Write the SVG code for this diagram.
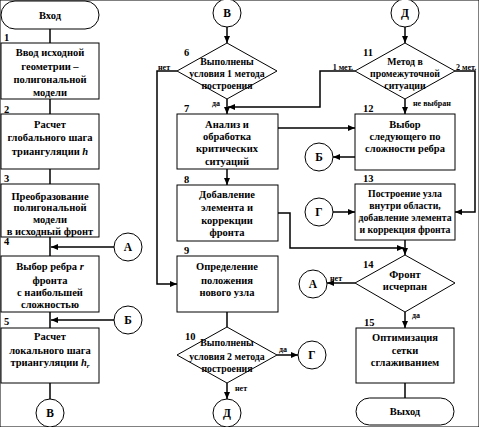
<svg xmlns="http://www.w3.org/2000/svg" width="479" height="427" viewBox="0 0 479 427">
<defs>
<marker id="ah" markerUnits="userSpaceOnUse" markerWidth="8" markerHeight="6" refX="7" refY="3" orient="auto">
<path d="M0,0 L7,3 L0,6 z" fill="#000"/>
</marker>
<style>
rect,circle,polygon{fill:#fff;stroke:#000;stroke-width:1}
.c path{fill:none;stroke:#000;stroke-width:1.5}
.a{marker-end:url(#ah)}
text{font-family:"Liberation Serif","Times New Roman",serif;font-weight:bold;fill:#000}
.t{font-size:10.5px;text-anchor:middle}
.d{font-size:9.8px;text-anchor:middle}
.k{font-size:11.5px;text-anchor:middle}
.n{font-size:10.5px}
.s{font-size:8px}
.e{text-anchor:end}
</style>
</defs>
<rect width="479" height="427" fill="#fff" stroke="none"/>
<g class="c" id="connectors">
<path d="M50,29 V43"/>
<path d="M50,99 V114"/>
<path d="M50,169 V184"/>
<path d="M50,237 V256"/>
<path d="M50,312 V328"/>
<path d="M50,383 V399"/>
<path class="a" d="M114,247 H51"/>
<path class="a" d="M114,320 H51"/>
<path class="a" d="M227,27 V43"/>
<path class="a" d="M227,99 V114"/>
<path class="a" d="M355,71 H320 V107 H228"/>
<path class="a" d="M278,128 H355"/>
<path class="a" d="M177,71 H157 V284 H177"/>
<path class="a" d="M227,169 V185"/>
<path class="a" d="M278,213 H290 V248 H404"/>
<path d="M227,312 V327"/>
<path class="a" d="M277,355 H298"/>
<path class="a" d="M227,383 V399"/>
<path class="a" d="M405,27 V43"/>
<path class="a" d="M405,99 V114"/>
<path class="a" d="M455,71 H475 V212 H455"/>
<path class="a" d="M355,157 H333"/>
<path class="a" d="M333,212 H355"/>
<path class="a" d="M405,240 V255"/>
<path class="a" d="M355,283 H327"/>
<path class="a" d="M405,312 V328"/>
<path d="M405,383 V398"/>
</g>
<g id="start"><rect x="1" y="1" width="98" height="28" rx="14"/><text class="t" x="50" y="19">Вход</text></g>
<g id="n1"><text class="n" x="4" y="41">1</text><rect x="1" y="43" width="98" height="56"/>
<text class="t" x="50" y="56">Ввод исходной</text><text class="t" x="50" y="70">геометрии –</text><text class="t" x="50" y="83">полигональной</text><text class="t" x="50" y="96">модели</text></g>
<g id="n2"><text class="n" x="4" y="113">2</text><rect x="1" y="114" width="98" height="55"/>
<text class="t" x="50" y="128">Расчет</text><text class="t" x="50" y="141">глобального шага</text><text class="t" x="50" y="155">триангуляции <tspan font-style="italic">h</tspan></text></g>
<g id="n3"><text class="n" x="4" y="182">3</text><rect x="1" y="184" width="98" height="53"/>
<text class="t" x="50" y="200">Преобразование</text><text class="t" x="50" y="211">полигональной</text><text class="t" x="50" y="223">модели</text><text class="t" x="50" y="235">в исходный фронт</text></g>
<g id="n4"><text class="n" x="4" y="245">4</text><rect x="1" y="256" width="98" height="56"/>
<text class="t" x="50" y="270">Выбор ребра <tspan font-style="italic">r</tspan></text><text class="t" x="50" y="284">фронта</text><text class="t" x="50" y="296">с наибольшей</text><text class="t" x="50" y="308">сложностью</text></g>
<g id="n5"><text class="n" x="4" y="325">5</text><rect x="1" y="328" width="98" height="55"/>
<text class="t" x="50" y="340">Расчет</text><text class="t" x="50" y="354">локального шага</text><text class="t" x="50" y="366">триангуляции <tspan font-style="italic">h</tspan><tspan font-style="italic" font-size="7px" dy="2">r</tspan></text></g>
<g id="cA1"><circle cx="128" cy="247" r="14"/><text class="k" x="128" y="251">А</text></g>
<g id="cB1"><circle cx="128" cy="320" r="14"/><text class="k" x="128" y="324">Б</text></g>
<g id="cV1"><circle cx="50" cy="413" r="14"/><text class="k" x="50" y="417">В</text></g>
<g id="cV2"><circle cx="227" cy="13" r="14"/><text class="k" x="227" y="17">В</text></g>
<g id="n6"><text class="n" x="184" y="56">6</text><polygon points="227,43 277,71 227,99 177,71"/>
<text class="d" x="227" y="65">Выполнены</text><text class="d" x="227" y="77">условия 1 метода</text><text class="d" x="227" y="89">построения</text>
<text class="s" x="158" y="70">нет</text><text class="s" x="212" y="106">да</text></g>
<g id="n7"><text class="n" x="184" y="112">7</text><rect x="177" y="114" width="101" height="55"/>
<text class="t" x="227" y="128">Анализ и</text><text class="t" x="227" y="140">обработка</text><text class="t" x="227" y="152">критических</text><text class="t" x="227" y="165">ситуаций</text></g>
<g id="n8"><text class="n" x="184" y="183">8</text><rect x="177" y="185" width="101" height="56"/>
<text class="t" x="227" y="198">Добавление</text><text class="t" x="227" y="211">элемента и</text><text class="t" x="227" y="224">коррекции</text><text class="t" x="227" y="236">фронта</text></g>
<g id="n9"><text class="n" x="184" y="254">9</text><rect x="177" y="256" width="101" height="56"/>
<text class="t" x="227" y="270">Определение</text><text class="t" x="227" y="284">положения</text><text class="t" x="227" y="296">нового узла</text></g>
<g id="n10"><text class="n" x="185" y="340">10</text><polygon points="227,327 277,355 227,383 177,355"/>
<text class="d" x="227" y="346">Выполнены</text><text class="d" x="227" y="360">условия 2 метода</text><text class="d" x="227" y="372">построения</text>
<text class="s" x="279" y="352">да</text><text class="s" x="235" y="391">нет</text></g>
<g id="cG1"><circle cx="312" cy="355" r="14"/><text class="k" x="312" y="359">Г</text></g>
<g id="cD1"><circle cx="227" cy="413" r="14"/><text class="k" x="227" y="417">Д</text></g>
<g id="cD2"><circle cx="405" cy="13" r="14"/><text class="k" x="405" y="17">Д</text></g>
<g id="n11"><text class="n" x="363" y="56">11</text><polygon points="405,43 455,71 405,99 355,71"/>
<text class="d" x="405" y="65">Метод в</text><text class="d" x="405" y="77">промежуточной</text><text class="d" x="405" y="89">ситуации</text>
<text class="s e" x="353" y="70">1 мет.</text><text class="s" x="456" y="70">2 мет.</text><text class="s" x="413" y="106">не выбран</text></g>
<g id="n12"><text class="n" x="363" y="112">12</text><rect x="355" y="114" width="100" height="56"/>
<text class="t" x="405" y="128">Выбор</text><text class="t" x="405" y="140">следующего по</text><text class="t" x="405" y="152">сложности ребра</text></g>
<g id="cB2"><circle cx="319" cy="157" r="14"/><text class="k" x="319" y="161">Б</text></g>
<g id="n13"><text class="n" x="363" y="182">13</text><rect x="355" y="184" width="100" height="56"/>
<text class="d" x="405" y="197">Построение узла</text><text class="d" x="405" y="209">внутри области,</text><text class="d" x="405" y="221">добавление элемента</text><text class="d" x="405" y="233">и коррекция фронта</text></g>
<g id="cG2"><circle cx="319" cy="212" r="14"/><text class="k" x="319" y="216">Г</text></g>
<g id="n14"><text class="n" x="363" y="268">14</text><polygon points="405,255 455,283 405,312 355,283"/>
<text class="t" x="405" y="278">Фронт</text><text class="t" x="405" y="290">исчерпан</text>
<text class="s" x="330" y="281">нет</text><text class="s" x="412" y="318">да</text></g>
<g id="cA2"><circle cx="313" cy="284" r="14"/><text class="k" x="313" y="288">А</text></g>
<g id="n15"><text class="n" x="364" y="326">15</text><rect x="356" y="328" width="98" height="55"/>
<text class="t" x="405" y="341">Оптимизация</text><text class="t" x="405" y="354">сетки</text><text class="t" x="405" y="366">сглаживанием</text></g>
<g id="end"><rect x="356" y="398" width="98" height="27" rx="13.5"/><text class="t" x="405" y="415">Выход</text></g>
</svg>
